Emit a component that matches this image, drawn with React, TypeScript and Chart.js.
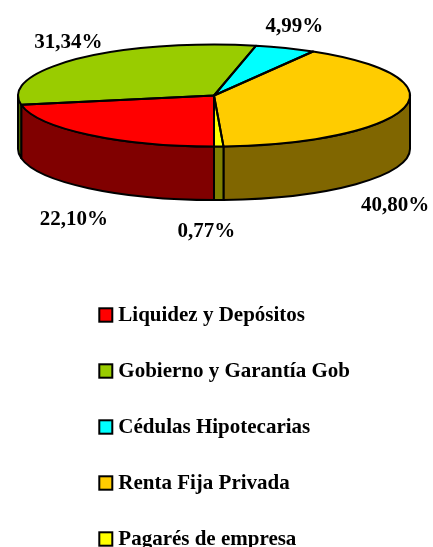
import { useEffect, useRef } from "react";
import { Chart, registerables } from "chart.js";

Chart.register(...registerables);

const categories = [
  "Liquidez y Depósitos",
  "Gobierno y Garantía Gob",
  "Cédulas Hipotecarias",
  "Renta Fija Privada",
  "Pagarés de empresa",
];
const shares = [22.1, 31.34, 4.99, 40.8, 0.77];
const topColors = ["#FF0000", "#99CC00", "#00FFFF", "#FFCC00", "#FFFF00"];
const sideColors = ["#800000", "#4D6600", "#008080", "#806600", "#808000"];

// style / layout constants
const TILT = 51 / 196;
const DEPTH = 53.5;
const CENTER_Y = 95.5;
const FONT = 'bold 21px "Liberation Serif", "Times New Roman", serif';
const labelNudges: [number, number][] = [
  [-14.6, 36.8],
  [-9.5, -10.8],
  [9, -16.3],
  [-9.3, 49.5],
  [-12.3, 36.7],
];
const LEGEND_X = 98.3;
const LEGEND_BASE = 320.7;
const LEGEND_STEP = 56;

const fmt = (v: number) => v.toFixed(2).replace(".", ",") + "%";

function applyTilt(ctx: CanvasRenderingContext2D, cy: number) {
  ctx.translate(0, CENTER_Y);
  ctx.scale(1, TILT);
  ctx.translate(0, -cy);
}

function strokeFlat(chart: any, ctx: CanvasRenderingContext2D) {
  const dpr = chart.currentDevicePixelRatio || 1;
  ctx.save();
  ctx.setTransform(dpr, 0, 0, dpr, 0, 0);
  ctx.lineWidth = 2;
  ctx.strokeStyle = "#000";
  ctx.lineJoin = "round";
  ctx.stroke();
  ctx.restore();
}

const pie3d = {
  id: "pie3d",
  beforeDatasetsDraw(chart: any) {
    const ctx: CanvasRenderingContext2D = chart.ctx;
    const arcs = chart.getDatasetMeta(0).data;
    if (!arcs.length) return;
    const cx = arcs[0].x;
    const cy = arcs[0].y;
    ctx.save();
    applyTilt(ctx, cy);
    const d = DEPTH / TILT;
    arcs.forEach((arc: any, i: number) => {
      const s = arc.startAngle;
      const e = arc.endAngle;
      const r = arc.outerRadius;
      for (let m = -2; m <= 2; m++) {
        const lo = Math.max(s, 2 * Math.PI * m);
        const hi = Math.min(e, 2 * Math.PI * m + Math.PI);
        if (hi <= lo) continue;
        ctx.beginPath();
        ctx.arc(cx, cy, r, lo, hi);
        ctx.lineTo(cx + r * Math.cos(hi), cy + r * Math.sin(hi) + d);
        ctx.arc(cx, cy + d, r, hi, lo, true);
        ctx.closePath();
        ctx.fillStyle = sideColors[i];
        ctx.fill();
        strokeFlat(chart, ctx);
      }
    });
  },
  afterDatasetsDraw(chart: any) {
    const ctx: CanvasRenderingContext2D = chart.ctx;
    const arcs = chart.getDatasetMeta(0).data;
    if (!arcs.length) return;
    const cx = arcs[0].x;
    const cy = arcs[0].y;
    arcs.forEach((arc: any) => {
      ctx.beginPath();
      ctx.moveTo(cx, cy);
      ctx.arc(cx, cy, arc.outerRadius, arc.startAngle, arc.endAngle);
      ctx.closePath();
      strokeFlat(chart, ctx);
    });
    ctx.restore();
  },
  afterDraw(chart: any) {
    const ctx: CanvasRenderingContext2D = chart.ctx;
    const arcs = chart.getDatasetMeta(0).data;
    if (!arcs.length) return;
    const cx = arcs[0].x;
    const values: number[] = chart.data.datasets[0].data;
    ctx.save();
    ctx.font = FONT;
    ctx.fillStyle = "#000";
    ctx.textAlign = "center";
    ctx.textBaseline = "alphabetic";
    arcs.forEach((arc: any, i: number) => {
      const mid = (arc.startAngle + arc.endAngle) / 2;
      const r = arc.outerRadius;
      const sn = Math.sin(mid);
      const bx = cx + r * Math.cos(mid);
      const by = CENTER_Y + r * TILT * sn + (sn > 0 ? DEPTH : 0);
      ctx.fillText(fmt(values[i]), bx + labelNudges[i][0], by + labelNudges[i][1]);
    });
    // legend
    ctx.textAlign = "left";
    const labels: string[] = chart.data.labels;
    labels.forEach((lab, i) => {
      const base = LEGEND_BASE + i * LEGEND_STEP;
      ctx.fillStyle = topColors[i];
      ctx.fillRect(LEGEND_X + 1, base - 12.4, 13, 13.4);
      ctx.lineWidth = 2;
      ctx.strokeStyle = "#000";
      ctx.strokeRect(LEGEND_X + 1, base - 12.4, 13, 13.4);
      ctx.fillStyle = "#000";
      ctx.fillText(lab, LEGEND_X + 20, base);
    });
    ctx.restore();
  },
};

export default function App() {
  const ref = useRef<HTMLCanvasElement | null>(null);
  useEffect(() => {
    document.body.style.margin = "0";
    document.body.style.overflow = "hidden";
    const canvas = ref.current;
    if (!canvas) return;
    const chart = new Chart(canvas, {
      type: "pie",
      data: {
        labels: categories,
        datasets: [
          {
            data: shares,
            backgroundColor: topColors,
            borderWidth: 0,
            clip: false,
          } as any,
        ],
      },
      options: {
        responsive: false,
        animation: false,
        events: [],
        rotation: 180,
        layout: { padding: { left: 18, right: 23, top: 0, bottom: 155 } },
        plugins: {
          legend: { display: false },
          tooltip: { enabled: false },
        },
      },
      plugins: [pie3d],
    });
    return () => chart.destroy();
  }, []);
  return (
    <div style={{ width: 433, height: 547, background: "#fff" }}>
      <canvas ref={ref} width={433} height={547} style={{ display: "block" }} />
    </div>
  );
}
